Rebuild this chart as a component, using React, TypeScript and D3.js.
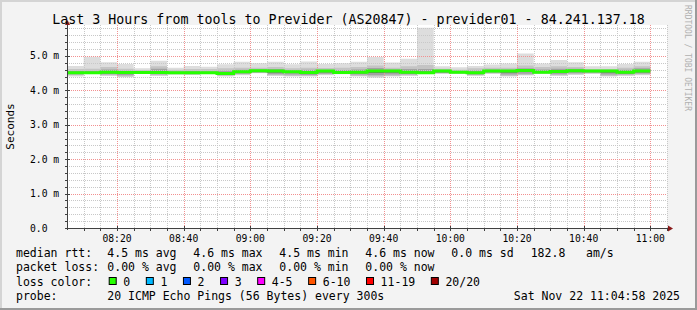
import React from 'react';
import * as d3 from 'd3';

// ---- data (values in milliseconds, one per 5-minute step starting 08:05) ----
const stepStartMinute = 485; // 08:05
const stepLength = 5;
const median = [4.51,4.51,4.53,4.52,4.52,4.52,4.51,4.51,4.51,4.49,4.54,4.57,4.56,4.54,4.52,4.56,4.52,4.53,4.56,4.56,4.53,4.51,4.56,4.53,4.51,4.56,4.56,4.58,4.53,4.55,4.57,4.56,4.56,4.53,4.56];
const pingMax = [4.71,4.98,4.82,4.77,4.64,4.86,4.66,4.71,4.69,4.76,4.83,4.79,4.83,4.76,4.84,4.77,4.79,4.83,4.97,4.81,4.92,5.82,4.70,4.67,4.71,4.75,4.78,5.07,4.78,4.88,4.82,4.70,4.70,4.77,4.83];
const pingMin = [4.40,4.48,4.42,4.38,4.48,4.42,4.46,4.45,4.48,4.40,4.44,4.50,4.42,4.40,4.40,4.44,4.47,4.40,4.37,4.40,4.42,4.48,4.48,4.48,4.42,4.48,4.40,4.43,4.48,4.42,4.45,4.48,4.40,4.42,4.44];
const p90 = [4.62,4.63,4.68,4.63,4.59,4.70,4.60,4.62,4.62,4.64,4.66,4.66,4.68,4.64,4.66,4.65,4.66,4.68,4.72,4.66,4.70,4.74,4.63,4.60,4.64,4.66,4.66,4.72,4.68,4.70,4.68,4.62,4.62,4.66,4.70];
const p75 = [4.56,4.56,4.61,4.57,4.55,4.63,4.55,4.56,4.55,4.57,4.60,4.61,4.62,4.58,4.60,4.60,4.59,4.61,4.65,4.61,4.62,4.62,4.60,4.57,4.58,4.61,4.60,4.64,4.61,4.63,4.63,4.59,4.59,4.60,4.64];
const p60 = [4.53,4.52,4.56,4.54,4.53,4.55,4.53,4.53,4.52,4.52,4.56,4.59,4.58,4.56,4.55,4.58,4.54,4.56,4.59,4.58,4.56,4.54,4.58,4.55,4.53,4.58,4.58,4.61,4.56,4.58,4.59,4.57,4.58,4.56,4.59];
const p40 = [4.49,4.50,4.50,4.48,4.51,4.49,4.50,4.50,4.50,4.47,4.51,4.55,4.52,4.51,4.49,4.53,4.50,4.50,4.51,4.52,4.50,4.50,4.53,4.51,4.48,4.54,4.52,4.54,4.52,4.52,4.54,4.54,4.52,4.50,4.53];
const p25 = [4.47,4.50,4.47,4.44,4.49,4.47,4.48,4.48,4.49,4.45,4.48,4.52,4.47,4.46,4.45,4.48,4.49,4.46,4.44,4.46,4.47,4.50,4.51,4.50,4.46,4.51,4.46,4.48,4.50,4.47,4.50,4.51,4.46,4.47,4.49];
const p10 = [4.44,4.49,4.44,4.40,4.48,4.44,4.47,4.46,4.48,4.42,4.46,4.51,4.44,4.42,4.42,4.46,4.48,4.42,4.40,4.42,4.44,4.49,4.49,4.49,4.44,4.49,4.42,4.45,4.49,4.44,4.47,4.49,4.42,4.44,4.46];

const yTickValues = [0, 1, 2, 3, 4, 5];
const yTickLabels = ['0.0', '1.0 m', '2.0 m', '3.0 m', '4.0 m', '5.0 m'];
const xTickMinutes = [500, 520, 540, 560, 580, 600, 620, 640, 660];
const xTickLabels = ['08:20', '08:40', '09:00', '09:20', '09:40', '10:00', '10:20', '10:40', '11:00'];

const titleText = 'Last 3 Hours from tools to Previder (AS20847) - previder01 - 84.241.137.18';
const medianRowLabel = 'median rtt:';
const medianStats = ['4.5 ms avg', '4.6 ms max', '4.5 ms min', '4.6 ms now', '0.0 ms sd'];
const medianExtra = ['182.8', 'am/s'];
const lossRowLabel = 'packet loss:';
const lossStats = ['0.00 % avg', '0.00 % max', '0.00 % min', '0.00 % now'];
const lossColorLabel = 'loss color:';
const lossLabels = ['0', '1', '2', '3', '4-5', '6-10', '11-19', '20/20'];
const lossColors = ['#26ff00', '#00b8ff', '#0059ff', '#7e00ff', '#ff00ff', '#ff5500', '#ff0000', '#a00000'];
const probeLabel = 'probe:';
const probeText = '20 ICMP Echo Pings (56 Bytes) every 300s';
const dateText = 'Sat Nov 22 11:04:58 2025';
const watermark = 'RRDTOOL / TOBI OETIKER';

const FONT = "'DejaVu Sans Mono', monospace";

export default function App() {
  const W = 697, H = 310;
  const left = 67, right = 667, top = 25, bottom = 228;
  const x = d3.scaleLinear().domain([485, 665]).range([left, right]);
  const y = d3.scaleLinear().domain([0, 5.9]).range([bottom, top]);

  const n = median.length;
  const idx = d3.range(n + 1);
  const tAt = (i: number) => stepStartMinute + i * stepLength;
  const clampI = (i: number) => Math.min(i, n - 1);

  const bands = [
    { lo: pingMin, hi: pingMax, color: '#dddddd' },
    { lo: p10, hi: p90, color: '#c4c4c4' },
    { lo: p25, hi: p75, color: '#a2a2a2' },
    { lo: p40, hi: p60, color: '#5a5a5a' },
  ];
  const areaFor = (lo: number[], hi: number[]) =>
    d3.area<number>()
      .curve(d3.curveStepAfter)
      .x((i) => x(tAt(i)))
      .y0((i) => y(lo[clampI(i)]))
      .y1((i) => y(hi[clampI(i)]))(idx) || '';
  const medianPath = d3.line<number>()
    .curve(d3.curveStepAfter)
    .x((i) => x(tAt(i)))
    .y((i) => y(median[clampI(i)]))(idx) || '';

  const minorY = d3.range(1, 30).map((k) => k * 0.2).filter((v) => Math.abs(v - Math.round(v)) > 1e-6 && v < 5.9);
  const majorY = [1, 2, 3, 4, 5];
  const minorX = d3.range(490, 666, 5).filter((m) => (m - 500) % 20 !== 0);
  const majorX = xTickMinutes;

  const cw = 6.92; // legend char width
  const colX = (k: number) => 107.3 + 86 * k;
  const rowY = [257, 271.3, 285.6, 300];

  // loss color legend layout from label lengths
  const boxes: { bx: number; lx: number }[] = [];
  let bx = 108.7;
  lossLabels.forEach((lab) => {
    const lx = bx + 14.6;
    boxes.push({ bx, lx });
    bx = lx + lab.length * cw + 15.6;
  });

  return (
    <svg width={W} height={H} style={{ position: 'absolute', left: 0, top: 0 }} fontFamily={FONT}>
      <rect x={0} y={0} width={W} height={H} fill="#f3f3f3" />
      <line x1={0} y1={1} x2={W} y2={1} stroke="#d4d4d4" strokeWidth={2} />
      <line x1={1} y1={0} x2={1} y2={H} stroke="#d4d4d4" strokeWidth={2} />
      <line x1={0} y1={H - 1} x2={W} y2={H - 1} stroke="#9a9a9a" strokeWidth={2} />
      <line x1={W - 1} y1={0} x2={W - 1} y2={H} stroke="#9a9a9a" strokeWidth={2} />

      <rect x={left} y={top} width={right - left} height={bottom - top} fill="#ffffff" />

      {/* smoke */}
      {bands.map((b, i) => (
        <path key={i} d={areaFor(b.lo, b.hi)} fill={b.color} />
      ))}

      {/* grid */}
      {minorY.map((v) => (
        <line key={'my' + v} x1={left} x2={right} y1={Math.round(y(v)) + 0.5} y2={Math.round(y(v)) + 0.5}
          stroke="#c8c8c8" strokeDasharray="1,1" />
      ))}
      {minorX.map((m) => (
        <line key={'mx' + m} y1={top} y2={bottom} x1={Math.round(x(m)) + 0.5} x2={Math.round(x(m)) + 0.5}
          stroke="#c8c8c8" strokeDasharray="1,1" />
      ))}
      {majorY.map((v) => (
        <line key={'My' + v} x1={left} x2={right} y1={Math.round(y(v)) + 0.5} y2={Math.round(y(v)) + 0.5}
          stroke="#f29090" strokeDasharray="1,1" />
      ))}
      {majorX.map((m) => (
        <line key={'Mx' + m} y1={top} y2={bottom} x1={Math.round(x(m)) + 0.5} x2={Math.round(x(m)) + 0.5}
          stroke="#f29090" strokeDasharray="1,1" />
      ))}

      {/* median line */}
      <path d={medianPath} fill="none" stroke={lossColors[0]} strokeWidth={3} />

      {/* axes */}
      <line x1={left + 0.5} x2={left + 0.5} y1={top - 3} y2={bottom + 2} stroke="#404040" />
      <line x1={left - 2} x2={right + 3} y1={bottom + 0.5} y2={bottom + 0.5} stroke="#404040" />
      <path d={`M${left - 2},${top} L${left + 3},${top} L${left + 0.5},${top - 5} Z`} fill="#8a1a1a" />
      <path d={`M${right + 1},${bottom - 2.5} L${right + 1},${bottom + 3.5} L${right + 6},${bottom + 0.5} Z`} fill="#8a1a1a" />
      {minorX.map((m) => (
        <line key={'tx' + m} x1={Math.round(x(m)) + 0.5} x2={Math.round(x(m)) + 0.5} y1={bottom + 1} y2={bottom + 3} stroke="#404040" />
      ))}
      {majorX.map((m) => (
        <line key={'Tx' + m} x1={Math.round(x(m)) + 0.5} x2={Math.round(x(m)) + 0.5} y1={bottom - 2} y2={bottom + 3} stroke="#404040" />
      ))}
      {majorY.map((v) => (
        <line key={'Ty' + v} x1={left - 2} x2={left + 3} y1={Math.round(y(v)) + 0.5} y2={Math.round(y(v)) + 0.5} stroke="#404040" />
      ))}
      {minorY.map((v) => (
        <line key={'ty' + v} x1={left - 2} x2={left} y1={Math.round(y(v)) + 0.5} y2={Math.round(y(v)) + 0.5} stroke="#404040" />
      ))}

      {/* tick labels */}
      {yTickValues.map((v, i) => (
        <text key={'yl' + v} x={30} y={y(v) + 3.5} fontSize={9.7} fill="#000">{yTickLabels[i]}</text>
      ))}
      {xTickMinutes.map((m, i) => (
        <text key={'xl' + m} x={x(m)} y={241.5} fontSize={9.7} textAnchor="middle" fill="#000">{xTickLabels[i]}</text>
      ))}

      {/* axis title */}
      <text transform={`translate(14, ${(top + bottom) / 2}) rotate(-90)`} textAnchor="middle" fontSize={11} fill="#000">Seconds</text>

      {/* title */}
      <text x={W / 2} y={23.5} textAnchor="middle" fontSize={13.3} fill="#000">{titleText}</text>

      {/* watermark */}
      <text transform="translate(685, 5) rotate(90)" fontSize={8} fill="#b0b0b0">{watermark}</text>

      {/* legend */}
      <g fontSize={11.5} fill="#000" style={{ whiteSpace: 'pre' }}>
        <text x={16} y={rowY[0]}>{medianRowLabel}</text>
        {medianStats.map((s, k) => (
          <text key={'ms' + k} x={colX(k)} y={rowY[0]}>{s}</text>
        ))}
        <text x={530.7} y={rowY[0]}>{medianExtra[0]}</text>
        <text x={586} y={rowY[0]}>{medianExtra[1]}</text>

        <text x={16} y={rowY[1]}>{lossRowLabel}</text>
        {lossStats.map((s, k) => (
          <text key={'ls' + k} x={colX(k)} y={rowY[1]}>{s}</text>
        ))}

        <text x={16} y={rowY[2]}>{lossColorLabel}</text>
        {lossLabels.map((lab, k) => (
          <g key={'lc' + k}>
            <rect x={boxes[k].bx + 0.5} y={277.5} width={7} height={7} fill={lossColors[k]} stroke="#000" strokeWidth={1} />
            <text x={boxes[k].lx} y={rowY[2]}>{lab}</text>
          </g>
        ))}

        <text x={16} y={rowY[3]}>{probeLabel}</text>
        <text x={colX(0)} y={rowY[3]}>{probeText}</text>
        <text x={680} y={rowY[3]} textAnchor="end">{dateText}</text>
      </g>
    </svg>
  );
}
